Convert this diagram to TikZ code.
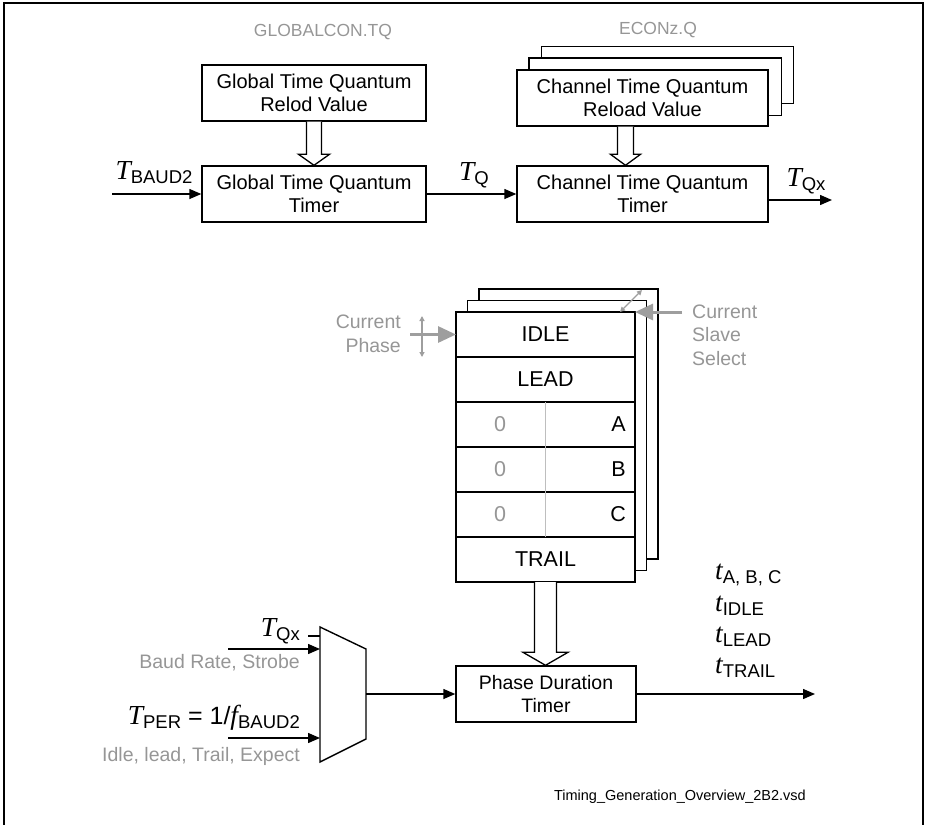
\documentclass[tikz,border=0pt]{standalone}
\usepackage{fontspec}
\setmainfont{Liberation Sans}
\newfontfamily\serifit{Liberation Serif}
\usepackage{tikz}
\usetikzlibrary{positioning,arrows.meta,calc,backgrounds}
\definecolor{txtgray}{RGB}{150,150,150}
\definecolor{arrgray}{RGB}{158,158,158}
\definecolor{divgray}{RGB}{190,190,190}
\tikzset{
  box/.style={draw, line width=1.4pt, fill=white, align=center, inner sep=0pt, font=\fontsize{20}{23}\selectfont},
  tabrow/.style={draw, line width=1.4pt, fill=white, outer sep=0pt, minimum width=179pt, minimum height=45pt, inner sep=0pt, font=\fontsize{21.5}{24}\selectfont},
  cell/.style={inner sep=0pt, font=\fontsize{21.5}{24}\selectfont},
  sheet/.style={draw, line width=1.4pt, fill=white},
  hollow/.style={draw, line width=1.3pt, fill=white, line join=miter},
  arr/.style={-{Triangle[length=12pt,width=10pt]}, line width=1.4pt},
  grayarr/.style={-{Triangle[length=18pt,width=16pt]}, line width=3pt, draw=arrgray},
  tinyarr/.style={{Triangle[length=5pt,width=5pt]}-{Triangle[length=5pt,width=5pt]}, line width=1.3pt, draw=arrgray},
  graytxt/.style={text=txtgray, inner sep=0pt, font=\fontsize{19.5}{23.5}\selectfont},
  siglbl/.style={inner sep=0pt},
}
% italic serif symbol with a sans subscript
\newcommand{\sig}[2]{{\serifit\itshape\fontsize{27.5}{27.5}\selectfont #1}\raisebox{-4pt}{\fontsize{18.5}{18.5}\selectfont #2}}
% hollow block arrow: from, to, shaft half width, head half width, head length
\newcommand{\fatarrow}[5]{\draw[hollow] let \p1=(#1), \p2=(#2) in (\x1-#3pt,\y1) -- (\x1-#3pt,\y2+#5pt) -- (\x1-#4pt,\y2+#5pt) -- (\x1,\y2) -- (\x1+#4pt,\y2+#5pt) -- (\x1+#3pt,\y2+#5pt) -- (\x1+#3pt,\y1);}

\begin{document}
\begin{tikzpicture}[x=1pt, y=-1pt]
  \useasboundingbox (0,0) rectangle (927,825);
  \draw[line width=1.4pt] (4,825) -- (4,3) -- (923,3) -- (923,825);

  % time quantum path
  \node[graytxt, font=\fontsize{17.5}{20}\selectfont] (gtq) at (323,32) {GLOBALCON.TQ};
  \node[graytxt, font=\fontsize{17.5}{20}\selectfont] (ctq) at (658,30) {ECONz.Q};
  \node[box, minimum width=224pt, minimum height=56pt] (globrel) at (314,93) {Global Time Quantum\\Relod Value};
  \node[box, minimum width=224pt, minimum height=56pt] (globtmr) at (314,194) {Global Time Quantum\\Timer};
  \node[box, minimum width=251pt, minimum height=56pt] (chrel) at (642.5,98) {Channel Time Quantum\\Reload Value};
  \node[box, minimum width=251pt, minimum height=56pt] (chtmr) at (642.5,194) {Channel Time Quantum\\Timer};
  \begin{scope}[on background layer]
    \draw[sheet] ($(chrel.north west)+(25,-23)$) rectangle ($(chrel.south east)+(25,-23)$);
    \draw[sheet] ($(chrel.north west)+(12.5,-11.5)$) rectangle ($(chrel.south east)+(12.5,-11.5)$);
  \end{scope}
  \coordinate (chdrop) at ($(chrel.south)+(-17,0)$);
  \fatarrow{globrel.south}{globtmr.north}{7.5}{15.5}{11}
  \fatarrow{chdrop}{chtmr.north}{8}{15}{11}

  \coordinate (baudin) at (112,194);
  \coordinate (tqxend) at (832,200);
  \draw[arr] (baudin) -- (globtmr.west);
  \draw[arr] (globtmr.east) -- (chtmr.west);
  \draw[arr] (chtmr.east |- tqxend) -- (tqxend);
  \node[siglbl] (tbaud) at (154,173) {\sig{T}{BAUD2}};
  \node[siglbl] (tq) at (474,175) {\sig{T}{Q}};
  \node[siglbl] (tqx) at (806,181) {\sig{T}{Qx}};

  % phase table
  \node[tabrow] (idle) at (545.5,334.5) {IDLE};
  \node[tabrow, below=0pt of idle] (lead) {LEAD};
  \node[tabrow, below=0pt of lead] (rowa) {};
  \node[tabrow, below=0pt of rowa] (rowb) {};
  \node[tabrow, below=0pt of rowb] (rowc) {};
  \node[tabrow, below=0pt of rowc] (trail) {TRAIL};
  \begin{scope}[on background layer]
    \draw[sheet] ($(idle.north west)+(23,-23)$) rectangle ($(trail.south east)+(23,-23)$);
    \draw[sheet] ($(idle.north west)+(11.5,-11.5)$) rectangle ($(trail.south east)+(11.5,-11.5)$);
  \end{scope}
  \draw[draw=divgray, line width=1.3pt] (rowa.north) -- (rowc.south);
  \node[cell, text=txtgray] (zeroa) at ($(rowa.west)+(44,0)$) {0};
  \node[cell, text=txtgray] (zerob) at ($(rowb.west)+(44,0)$) {0};
  \node[cell, text=txtgray] (zeroc) at ($(rowc.west)+(44,0)$) {0};
  \node[cell, anchor=east] (leta) at ($(rowa.east)+(-9,0)$) {A};
  \node[cell, anchor=east] (letb) at ($(rowb.east)+(-9,0)$) {B};
  \node[cell, anchor=east] (letc) at ($(rowc.east)+(-9,0)$) {C};

  \node[graytxt, align=right, anchor=east] (curphase) at (401,334) {Current\\Phase};
  \coordinate (phin) at (410,334.5);
  \coordinate (phup) at (422,316);
  \coordinate (phdn) at (422,357);
  \draw[grayarr] (phin) -- (idle.west);
  \draw[tinyarr] (phup) -- (phdn);
  \node[graytxt, align=left, anchor=west] (slavesel) at (692,335) {Current\\Slave\\Select};
  \coordinate (slvin) at (682,312);
  \coordinate (slva) at (620,312);
  \coordinate (slvb) at (642,290);
  \draw[grayarr] (slvin) -- (idle.north east);
  \draw[tinyarr] (slva) -- (slvb);

  % phase duration timer and input mux
  \node[box, minimum width=180pt, minimum height=56pt, font=\fontsize{19.5}{23}\selectfont] (phase) at (546,694) {Phase Duration\\Timer};
  \fatarrow{trail.south}{phase.north}{11}{22.5}{13}

  \coordinate (mtl) at (320,627);
  \coordinate (mtr) at (366,649);
  \coordinate (mbr) at (366,739);
  \coordinate (mbl) at (320,762);
  \draw[line width=1.4pt] (mtl) -- (mtr) -- (mbr) -- (mbl) -- cycle;
  \coordinate (muxin1) at (320,649);
  \coordinate (muxin2) at (320,738);
  \coordinate (muxout) at (366,694);
  \coordinate (in1) at (228,649);
  \coordinate (in2) at (228,738);
  \coordinate (seltick) at (308,636);
  \draw[arr] (in1) -- (muxin1);
  \draw[arr] (in2) -- (muxin2);
  \draw[line width=1.4pt] (seltick) -- (seltick -| mtl);
  \draw[arr] (muxout) -- (phase.west);

  \node[siglbl, anchor=east] (tqxmux) at (300,631) {\sig{T}{Qx}};
  \node[graytxt, anchor=east] (baudlbl) at (300,663) {Baud Rate, Strobe};
  \node[siglbl, anchor=east] (tper) at (300,718) {\sig{T}{PER}{\fontsize{25}{25}\selectfont\ =\ 1/}\sig{f}{BAUD2}};
  \node[graytxt, anchor=east] (idlelbl) at (300,756) {Idle, lead, Trail, Expect};

  \coordinate (tout) at (815,694);
  \draw[arr] (phase.east) -- (tout);
  \node[siglbl, anchor=west] (tabc) at (715,575) {\sig{t}{A, B, C}};
  \node[siglbl, anchor=west] (tidle) at (715,606) {\sig{t}{IDLE}};
  \node[siglbl, anchor=west] (tlead) at (715,637) {\sig{t}{LEAD}};
  \node[siglbl, anchor=west] (ttrail) at (715,668) {\sig{t}{TRAIL}};

  \node[anchor=east, inner sep=0pt, font=\fontsize{14.5}{17}\selectfont] (fname) at (806,797) {Timing\_Generation\_Overview\_2B2.vsd};
\end{tikzpicture}
\end{document}
